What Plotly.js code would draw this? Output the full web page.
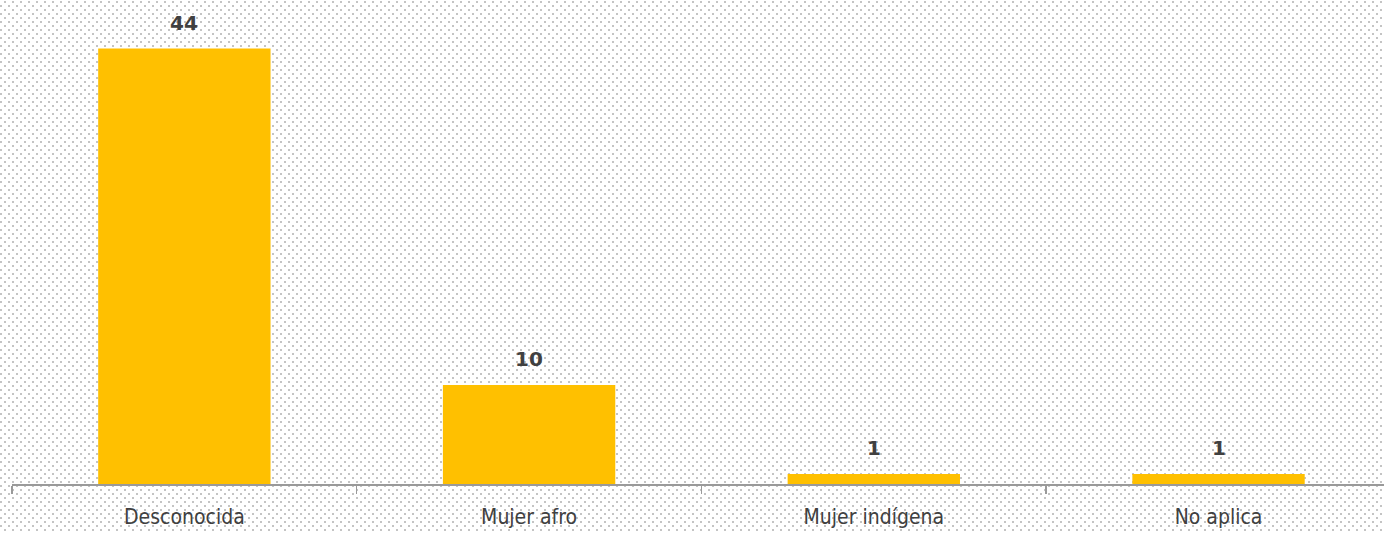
<!DOCTYPE html>
<html>
<head>
<meta charset="utf-8">
<script src="https://cdn.plot.ly/plotly-3.0.1.min.js"></script>
<style>
html, body { margin:0; padding:0; }
body {
  width:1384px; height:533px; overflow:hidden;
  background-color:#ffffff;
  background-image:url("data:image/svg+xml;utf8,<svg xmlns='http://www.w3.org/2000/svg' width='8' height='8'><rect x='4' y='1' width='2' height='2' fill='%23c4c4c4'/><rect x='0' y='5' width='2' height='2' fill='%23c4c4c4'/></svg>");
  background-repeat:repeat;
}
#chart { width:1384px; height:533px; }
</style>
</head>
<body>
<div id="chart"></div>
<script>
const categories = ["Desconocida", "Mujer afro", "Mujer indígena", "No aplica"];
const values = [44, 10, 1, 1];
const valueLabels = ["44", "10", "1", "1"];

const trace = {
  type: 'bar',
  x: categories,
  y: values,
  marker: { color: '#FFC000' },
  hoverinfo: 'none'
};

const annotations = categories.map((c, i) => ({
  x: c, y: values[i], text: valueLabels[i],
  xref: 'x', yref: 'y', showarrow: false,
  yanchor: 'bottom', yshift: 12,
  font: { family: 'DejaVu Sans, sans-serif', size: 20, color: '#404040', weight: 'bold' }
}));

const layout = {
  width: 1384, height: 533,
  margin: { l: 12, r: 0, t: 10, b: 49 },
  paper_bgcolor: 'rgba(0,0,0,0)',
  plot_bgcolor: 'rgba(0,0,0,0)',
  bargap: 0.5,
  showlegend: false,
  xaxis: {
    type: 'category',
    range: [-0.5, 3.48],
    showline: true, linecolor: '#9a9a9a', linewidth: 1.5,
    ticks: 'outside', ticklen: 8, tickcolor: '#9a9a9a', tickwidth: 1.5,
    tickson: 'boundaries',
    ticklabelstandoff: 13,
    showgrid: false, zeroline: false,
    tickfont: { family: 'DejaVu Sans Condensed, DejaVu Sans, sans-serif', stretch: 'condensed', size: 21, color: '#404040' },
    fixedrange: true
  },
  yaxis: {
    range: [0, 47.9],
    visible: false, showgrid: false, zeroline: false,
    fixedrange: true
  },
  annotations: annotations
};

Plotly.newPlot('chart', [trace], layout, { displayModeBar: false, staticPlot: true });
</script>
</body>
</html>
